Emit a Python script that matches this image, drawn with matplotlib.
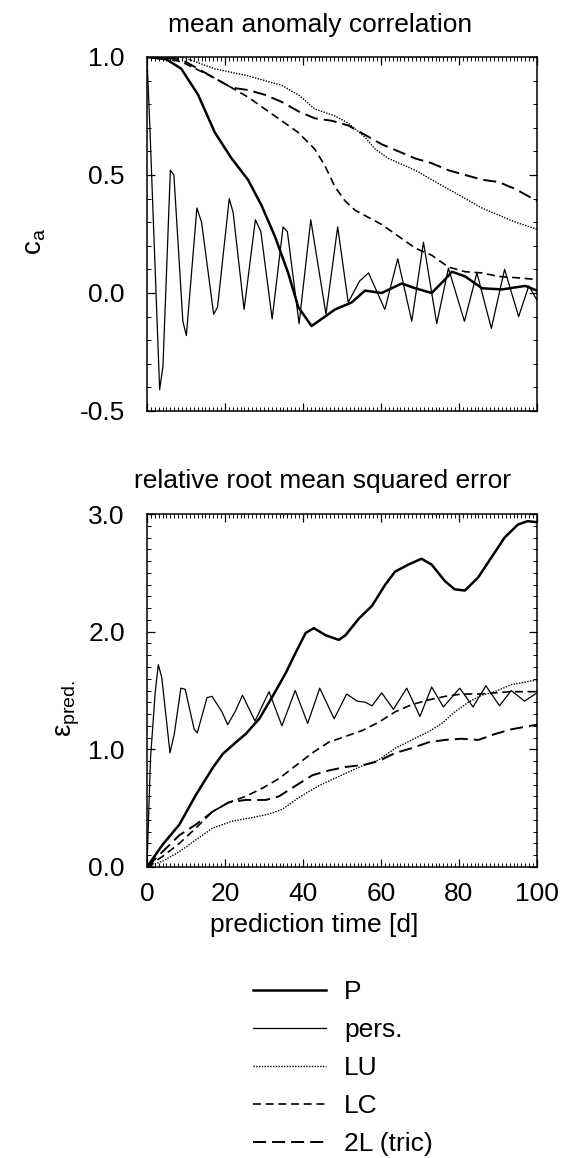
import numpy as np
import matplotlib
matplotlib.use("Agg")
import matplotlib.pyplot as plt
from matplotlib.ticker import MultipleLocator

plt.rcParams['font.family'] = ['Liberation Sans', 'DejaVu Sans']
plt.rcParams['mathtext.fontset'] = 'custom'
plt.rcParams['mathtext.rm'] = 'Liberation Sans'
plt.rcParams['mathtext.it'] = 'Liberation Sans'

# ---- mean anomaly correlation (top) ----
ca_P_t = [0, 5, 8.8, 13.1, 17.4, 21.7, 25.9, 29.4, 32.8, 36.2, 38.8, 42.2, 44.8, 48.2,
          52.5, 55.9, 60.2, 65.3, 68.8, 73, 76, 78.2, 81.6, 85.9, 91, 97, 100]
ca_P = [1.0, 0.99, 0.95, 0.84, 0.68, 0.57, 0.48, 0.37, 0.24, 0.085, -0.06, -0.14, -0.11, -0.07,
        -0.04, 0.01, 0.0, 0.04, 0.02, 0.0, 0.05, 0.09, 0.07, 0.02, 0.015, 0.03, 0.01]

ca_pers_t = [0, 0.7, 3.25, 4.1, 6.0, 6.9, 9.2, 10.1, 12.8, 14.0, 17.1, 18.1, 21.1, 22.1,
             24.9, 27.8, 29.2, 32.1, 34.9, 36.0, 39.0, 42.0, 45.9, 48.9, 51.6, 54.5, 56.8,
             61.0, 64.3, 67.9, 70.9, 74.3, 77.3, 81.4, 84.6, 88.3, 91.7, 95.3, 97.9, 100]
ca_pers = [1.0, 0.72, -0.41, -0.31, 0.52, 0.50, -0.12, -0.18, 0.36, 0.30, -0.09, -0.06,
           0.40, 0.34, -0.07, 0.31, 0.26, -0.11, 0.28, 0.26, -0.13, 0.31, -0.09, 0.28, -0.04,
           0.05, 0.085, -0.07, 0.145, -0.12, 0.215, -0.13, 0.105, -0.12, 0.085, -0.15, 0.10,
           -0.10, 0.03, -0.03]

ca_LU_t = [0, 9, 17.4, 25.9, 34.5, 38.8, 43, 48.2, 51.6, 55.9, 58.5, 61.9, 68.8, 73, 77.3,
           81.6, 85.9, 90.2, 94.5, 100]
ca_LU = [1.0, 1.0, 0.95, 0.92, 0.88, 0.84, 0.78, 0.75, 0.72, 0.66, 0.61, 0.57, 0.52, 0.48,
         0.44, 0.40, 0.36, 0.33, 0.30, 0.27]

ca_LC_t = [0, 4, 8.8, 17.4, 21.7, 25.9, 30.2, 34.5, 38.8, 43, 45.6, 48.2, 50.8, 53.4, 56.8,
           60.2, 64.5, 68.8, 73, 77.3, 81.6, 85.9, 90.2, 94.5, 100]
ca_LC = [1.0, 0.995, 0.98, 0.91, 0.87, 0.83, 0.78, 0.73, 0.68, 0.61, 0.54, 0.45, 0.39, 0.35,
         0.32, 0.29, 0.24, 0.19, 0.16, 0.11, 0.09, 0.085, 0.07, 0.065, 0.057]

ca_2L_t = [0, 4, 8.8, 17.4, 21.7, 25.9, 30.2, 34.5, 38.8, 43, 47.3, 51.6, 55.9, 60.2, 64.5,
           68.8, 73, 77.3, 81.6, 85.9, 90.2, 94.5, 100]
ca_2L = [1.0, 0.998, 0.99, 0.91, 0.87, 0.86, 0.84, 0.81, 0.77, 0.74, 0.73, 0.71, 0.67, 0.63,
         0.60, 0.57, 0.55, 0.52, 0.50, 0.48, 0.47, 0.44, 0.39]

# ---- relative rms error (bottom) ----
er_P_t = [0, 4, 8.3, 12.5, 16.8, 19.4, 22.8, 25.3, 28.8, 32.2, 35.6, 38.1, 40.7, 42.8, 45.8,
          49.2, 50.9, 54.3, 57.7, 61.1, 63.6, 67, 70.4, 73, 76.4, 78.9, 81.5, 84.9, 88.3,
          91.7, 95.1, 97.6, 100]
er_P = [0.0, 0.19, 0.36, 0.61, 0.84, 0.96, 1.06, 1.13, 1.26, 1.45, 1.65, 1.82, 1.99, 2.03,
        1.97, 1.93, 1.97, 2.11, 2.22, 2.40, 2.51, 2.57, 2.62, 2.57, 2.43, 2.36, 2.35, 2.46,
        2.63, 2.80, 2.91, 2.94, 2.93]

er_pers_t = [0, 0.9, 2.1, 2.9, 3.8, 5.9, 7.0, 8.7, 9.8, 12.1, 12.9, 15.4, 16.7, 19.2, 20.7,
             22.6, 24.5, 27.7, 31.3, 34.6, 38.0, 41.2, 44.3, 48.0, 51.2, 53.9, 56.0, 57.7,
             60.2, 63.2, 66.6, 70.0, 73.0, 76.0, 80.2, 83.6, 86.9, 90.4, 93.4, 96.8, 100]
er_pers = [0.0, 0.92, 1.48, 1.72, 1.61, 0.97, 1.13, 1.52, 1.51, 1.17, 1.14, 1.44, 1.45, 1.32,
           1.21, 1.32, 1.46, 1.24, 1.49, 1.20, 1.50, 1.22, 1.52, 1.26, 1.47, 1.41, 1.40, 1.37,
           1.48, 1.34, 1.52, 1.28, 1.53, 1.36, 1.52, 1.36, 1.54, 1.37, 1.50, 1.41, 1.48]

er_LU_t = [0, 4, 8.3, 12.5, 16.8, 21.9, 27, 31.3, 34.7, 38.9, 44, 49.2, 55.2, 59.4, 63.7,
           67.9, 72.2, 75.6, 79, 82.4, 85.8, 89.2, 93.4, 100]
er_LU = [0.0, 0.05, 0.13, 0.23, 0.33, 0.39, 0.42, 0.45, 0.49, 0.59, 0.69, 0.77, 0.86, 0.91,
         1.01, 1.08, 1.15, 1.22, 1.32, 1.40, 1.46, 1.49, 1.55, 1.59]

er_LC_t = [0, 4, 8.3, 12.5, 16.8, 21, 25.3, 29.6, 33.8, 38.1, 42.4, 46.6, 50.9, 55.2, 59.4,
           63.7, 67.9, 72.2, 76.4, 80.7, 85, 89.2, 93.4, 100]
er_LC = [0.0, 0.09, 0.2, 0.33, 0.47, 0.55, 0.60, 0.67, 0.75, 0.86, 0.97, 1.06, 1.11, 1.16,
         1.23, 1.32, 1.38, 1.42, 1.45, 1.47, 1.47, 1.48, 1.49, 1.49]

er_2L_t = [0, 4, 8.3, 12.5, 16.8, 21, 25.3, 30.5, 33.8, 38.1, 42.4, 46.6, 50.9, 56, 59.4,
           63.7, 67.9, 72.2, 76.4, 80.7, 85, 89.2, 93.4, 100]
er_2L = [0.0, 0.13, 0.27, 0.36, 0.47, 0.55, 0.57, 0.57, 0.60, 0.69, 0.78, 0.82, 0.85, 0.87,
         0.90, 0.97, 1.01, 1.06, 1.08, 1.09, 1.08, 1.13, 1.17, 1.21]

labels = ['P', 'pers.', 'LU', 'LC', '2L (tric)']
styles = [dict(lw=1.8, ls='-'),
          dict(lw=0.9, ls='-'),
          dict(lw=1.0, ls=(0, (1, 1))),
          dict(lw=1.2, ls=(0, (4.8, 2.8))),
          dict(lw=1.4, ls=(0, (6.7, 3.1)))]

FS = 19

fig = plt.figure(figsize=(5.69, 11.58), dpi=100)
ax1 = fig.add_axes([0.2583, 0.6451, 0.6854, 0.3057])
ax2 = fig.add_axes([0.2583, 0.2513, 0.6854, 0.3048])

top = [(ca_P_t, ca_P), (ca_pers_t, ca_pers), (ca_LU_t, ca_LU), (ca_LC_t, ca_LC), (ca_2L_t, ca_2L)]
bot = [(er_P_t, er_P), (er_pers_t, er_pers), (er_LU_t, er_LU), (er_LC_t, er_LC), (er_2L_t, er_2L)]

lines = []
for (t, v), st, lab in zip(top, styles, labels):
    ln, = ax1.plot(t, v, color='black', label=lab, **st)
    lines.append(ln)
for (t, v), st in zip(bot, styles):
    ax2.plot(t, v, color='black', **st)

for ax in (ax1, ax2):
    ax.set_xlim(0, 100)
    ax.xaxis.set_major_locator(MultipleLocator(20))
    ax.xaxis.set_minor_locator(MultipleLocator(1))
    ax.yaxis.set_minor_locator(MultipleLocator(0.1))
    ax.tick_params(which='both', direction='in', top=True, right=True, labelsize=FS)
    ax.tick_params(which='major', length=6, width=0.9)
    ax.tick_params(which='minor', length=3, width=0.7)
    ax.tick_params(axis='y', pad=16)
    ax.tick_params(axis='x', pad=11)
    for s in ax.spines.values():
        s.set_linewidth(1.1)

ax1.set_ylim(-0.5, 1.0)
ax1.set_yticks([-0.5, 0.0, 0.5, 1.0])
ax1.set_yticklabels(['-0.5', '0.0', '0.5', '1.0'])
ax1.tick_params(axis='x', labelbottom=False)
ax1.set_title('mean anomaly correlation', fontsize=FS, pad=18, x=0.445)
ax1.set_ylabel(r'$\mathregular{c_a}$', fontsize=FS + 1)
ax1.yaxis.set_label_coords(-0.254, 0.48)

ax2.set_ylim(0, 3.0)
ax2.set_yticks([0.0, 1.0, 2.0, 3.0])
ax2.set_yticklabels(['0.0', '1.0', '2.0', '3.0'])
ax2.set_title('relative root mean squared error', fontsize=FS, pad=19, x=0.45)
ax2.set_ylabel(r'$\varepsilon_{\mathregular{pred.}}$', fontsize=FS + 1)
ax2.yaxis.set_label_coords(-0.166, 0.45)
ax2.set_xlabel('prediction time [d]', fontsize=FS)
ax2.xaxis.set_label_coords(0.43, -0.13)

fig.legend(handles=lines, labels=labels, loc='upper left', bbox_to_anchor=(0.4446, 0.1537),
           frameon=False, fontsize=FS, handlelength=2.75, labelspacing=0.535,
           handletextpad=0.7, borderpad=0, borderaxespad=0)

fig.savefig('out.png', dpi=100)
